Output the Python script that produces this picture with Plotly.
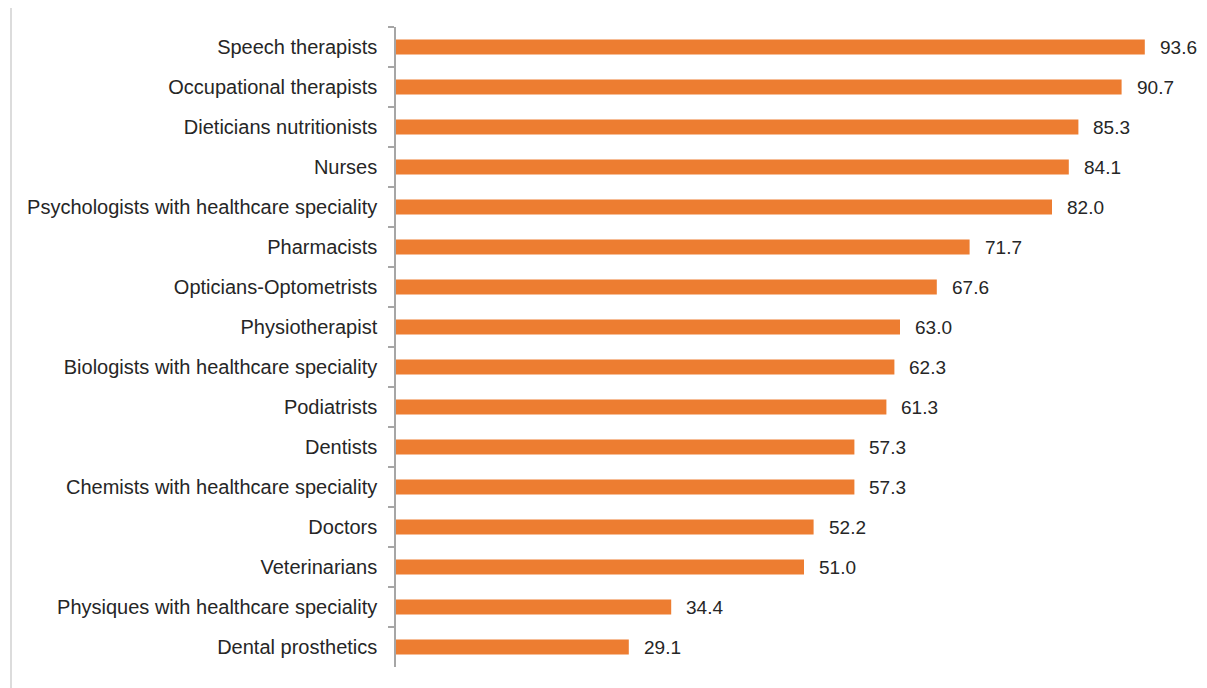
import plotly.graph_objects as go

categories = ["Speech therapists", "Occupational therapists", "Dieticians nutritionists", "Nurses",
              "Psychologists with healthcare speciality", "Pharmacists", "Opticians-Optometrists",
              "Physiotherapist", "Biologists with healthcare speciality", "Podiatrists", "Dentists",
              "Chemists with healthcare speciality", "Doctors", "Veterinarians",
              "Physiques with healthcare speciality", "Dental prosthetics"]
values = [93.6, 90.7, 85.3, 84.1, 82.0, 71.7, 67.6, 63.0, 62.3, 61.3, 57.3, 57.3, 52.2, 51.0, 34.4, 29.1]

FONT = "Liberation Sans, Arial"
TXT = "#262626"

fig = go.Figure(go.Bar(
    x=values, y=categories, orientation="h",
    marker=dict(color="#ED7D31", line=dict(width=0)),
    cliponaxis=False,
))

annotations = [dict(x=v, y=c, xref="x", yref="y", text=f"{v:.1f}", showarrow=False,
                    xanchor="left", yanchor="middle", xshift=13,
                    font=dict(family=FONT, size=19, color=TXT))
               for c, v in zip(categories, values)]

fig.update_layout(
    width=1199, height=680,
    margin=dict(l=388, r=11, t=19, b=21),
    paper_bgcolor="white", plot_bgcolor="white",
    bargap=0.62, showlegend=False,
    font=dict(family=FONT, size=20, color=TXT),
    xaxis=dict(range=[0, 100], visible=False),
    yaxis=dict(autorange="reversed", showline=True, linecolor="#a6a6a6", linewidth=1.5,
               ticks="outside", tickson="boundaries", ticklen=6, tickcolor="#a6a6a6", tickwidth=1.5,
               ticklabelstandoff=13, tickfont=dict(family=FONT, size=20, color=TXT), showgrid=False),
    annotations=annotations,
    shapes=[dict(type="line", xref="paper", yref="paper", x0=-0.48125, x1=-0.48125, y0=-1, y1=2,
                 line=dict(color="#d0d0d0", width=1.5))],
)

fig.write_html("out.html")
